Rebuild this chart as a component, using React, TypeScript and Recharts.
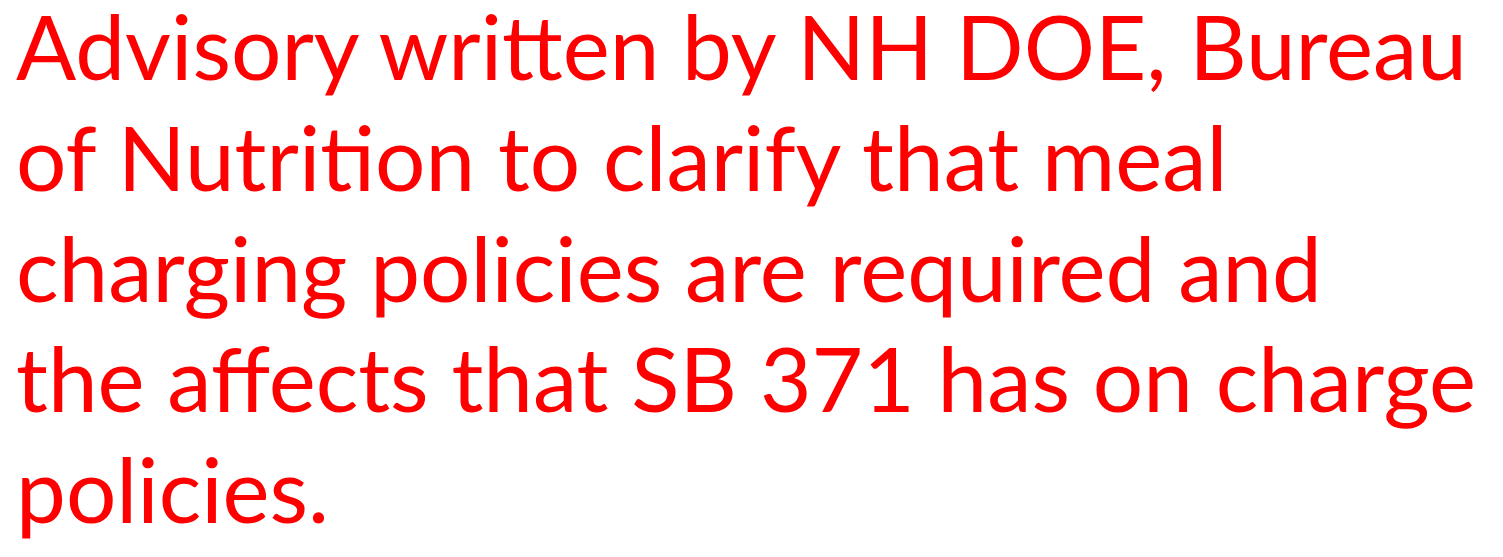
import React from "react";
import { Surface, Text } from "recharts";

const lines = [
  "Advisory written by NH DOE, Bureau",
  "of Nutrition to clarify that meal",
  "charging policies are required and",
  "the affects that SB 371 has on charge",
  "policies.",
];

export default function App() {
  return (
    <div style={{ width: 1503, height: 557, background: "#fff" }}>
      <style>{"body{margin:0}"}</style>
      <Surface width={1503} height={557}>
        {lines.map((line, i) => (
          <Text
            key={i}
            x={16}
            y={80 + i * 110.8}
            fontSize={89}
            fontFamily="Lato, 'Open Sans', sans-serif"
            fill="#ff0000"
            textAnchor="start"
            verticalAnchor="end"
          >
            {line}
          </Text>
        ))}
      </Surface>
    </div>
  );
}
